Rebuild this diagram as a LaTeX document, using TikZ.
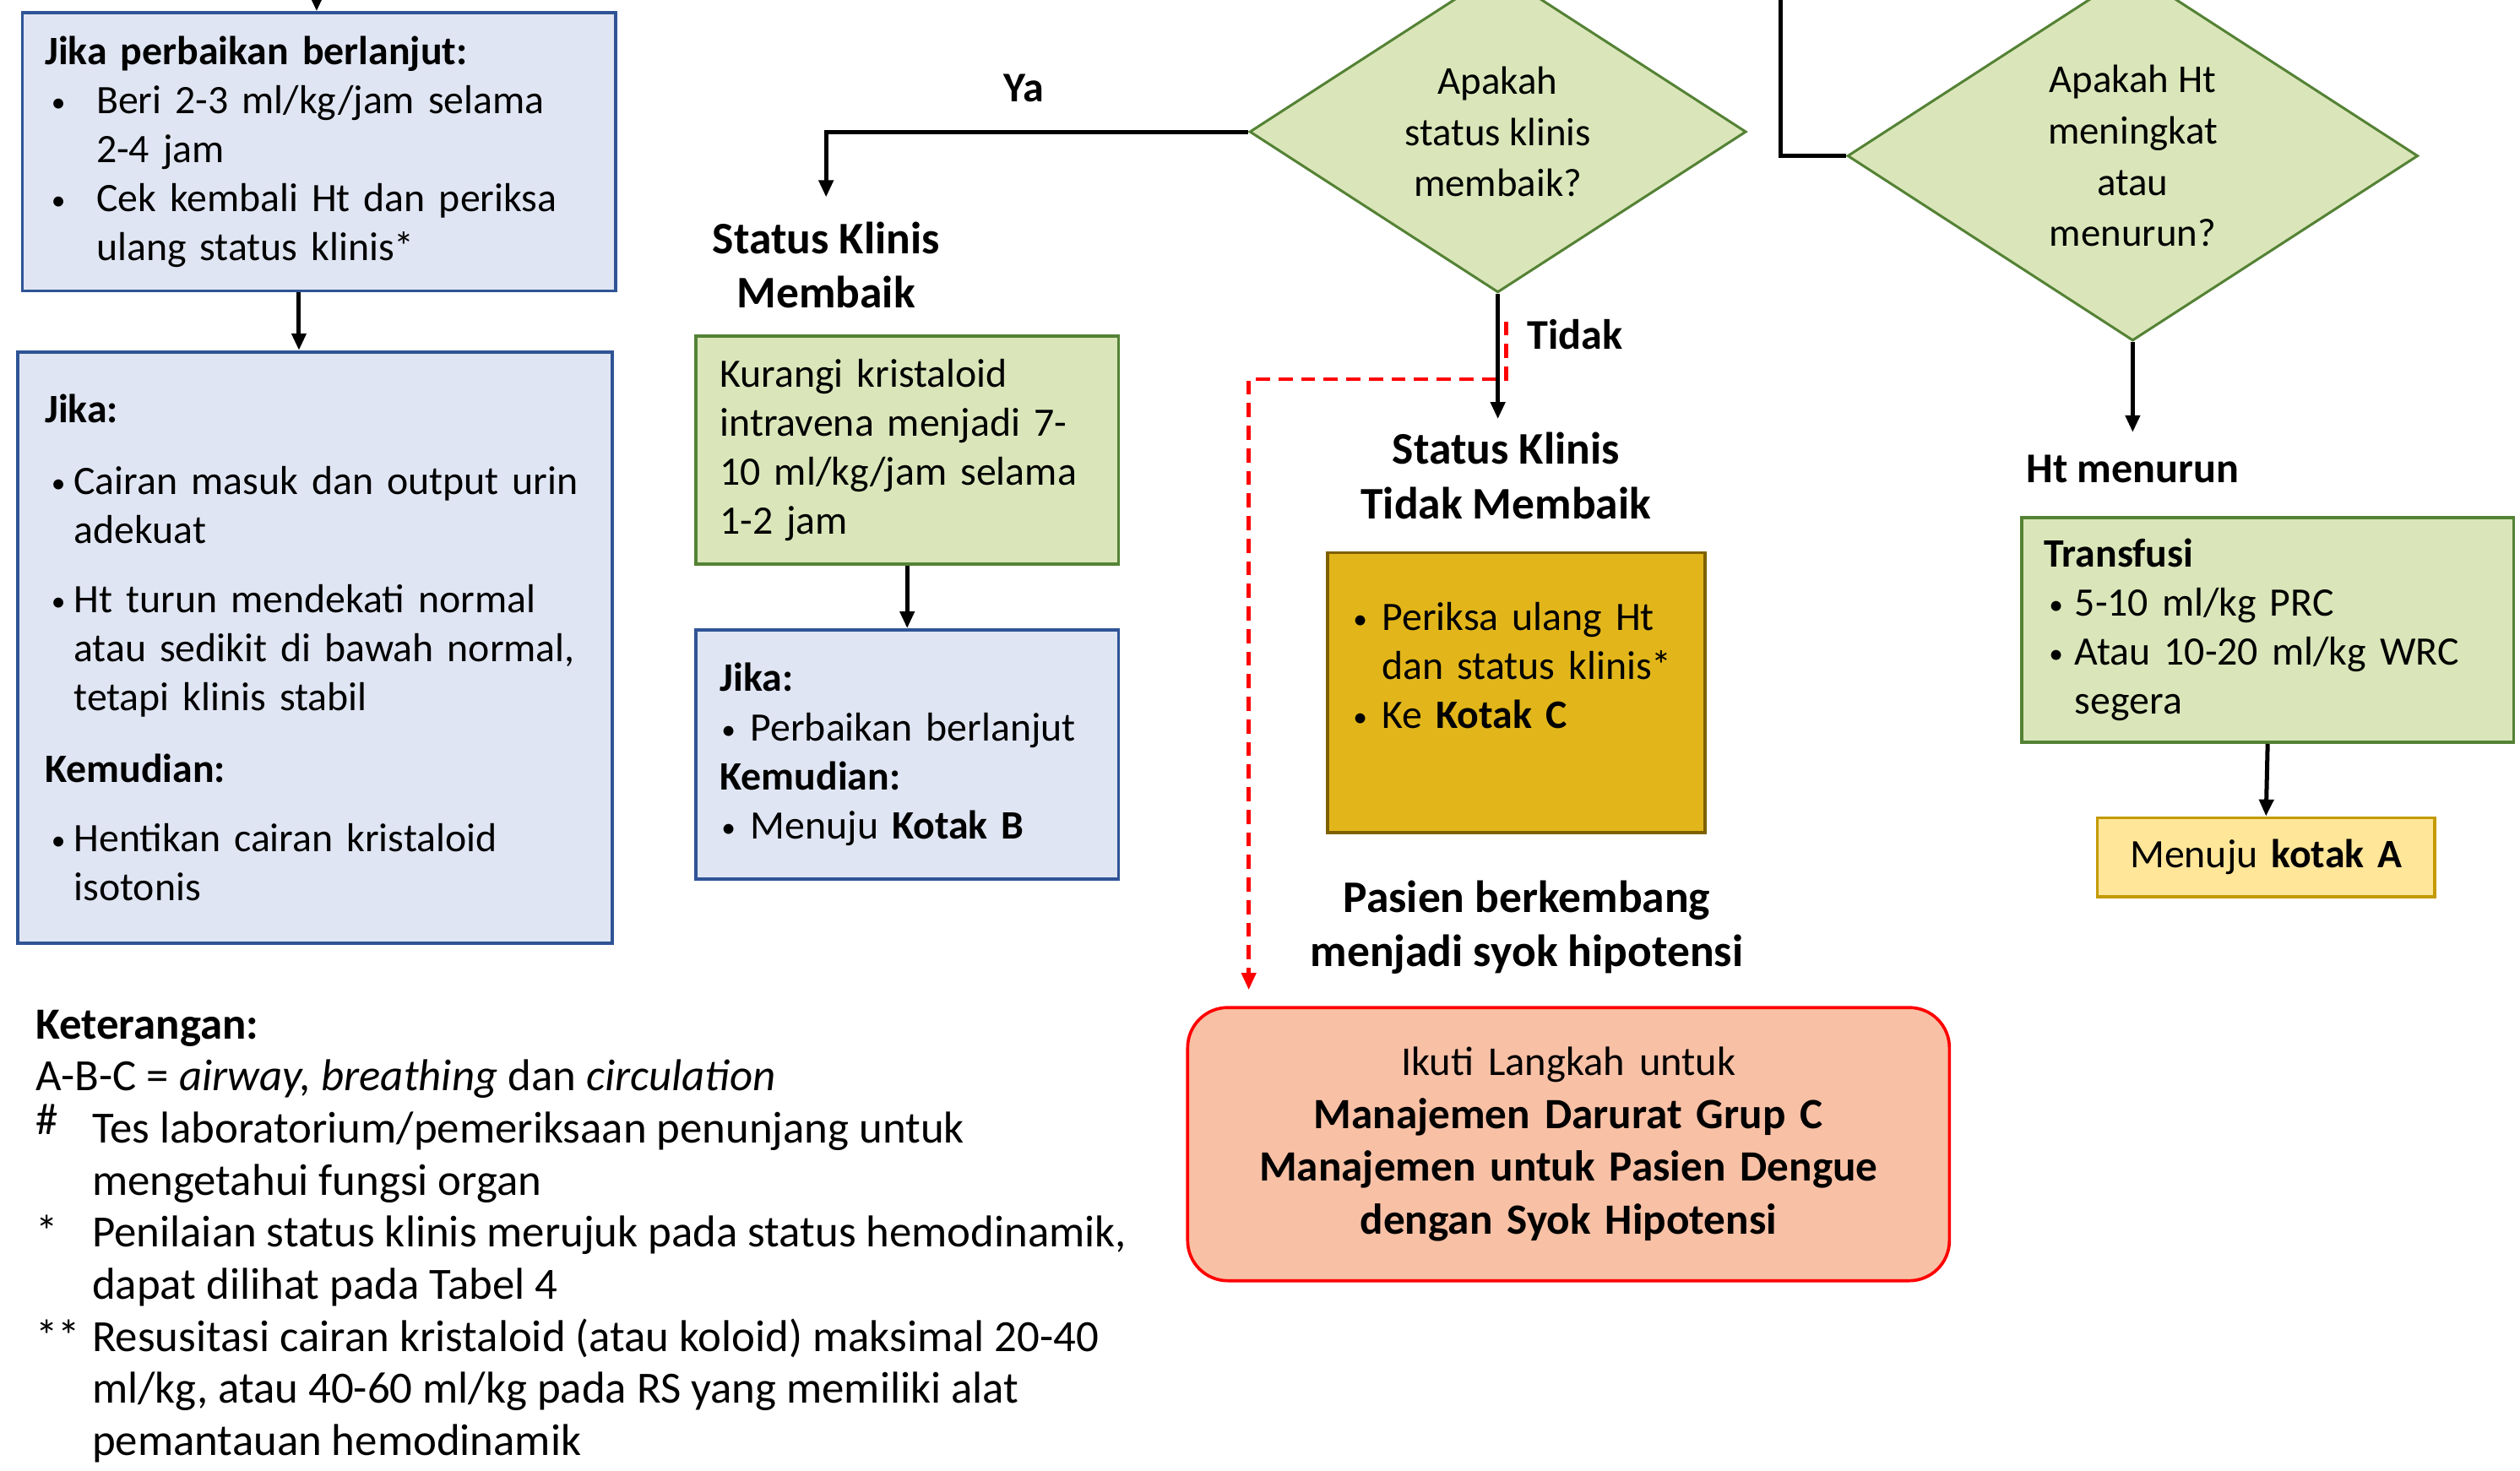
\documentclass[tikz,border=0pt]{standalone}
\usepackage{fontspec}
\setmainfont{Carlito}
\usetikzlibrary{arrows.meta,shapes.geometric}
\newlength\uu \setlength\uu{0.02cm}
\definecolor{fillblue}{HTML}{DFE5F2}
\definecolor{lineblue}{HTML}{2F5496}
\definecolor{fillgreen}{HTML}{DAE6B9}
\definecolor{linegreen}{HTML}{548235}
\definecolor{fillgold}{HTML}{E2B61A}
\definecolor{linegold}{HTML}{7F6000}
\definecolor{fillyellow}{HTML}{FFE699}
\definecolor{lineyellow}{HTML}{C49A00}
\definecolor{fillsalmon}{HTML}{F8C0A5}
\definecolor{linered}{HTML}{FF0000}
\newcommand\smbul{\raisebox{0.6pt}{\fontsize{10}{10}\selectfont\textbullet}}
\newcommand\blt[2]{\makebox[#2\uu][l]{\hspace*{#1\uu}\smbul}}
\newcommand\indt[1]{\hspace*{#1\uu}}
\newcommand\mkr[1]{\makebox[35\uu][l]{#1}}
\newcommand\bodyfont{\fontsize{14.3}{17.4}\selectfont}
\newcommand\headfont{\fontsize{16}{19.3}\selectfont\bfseries}
\newcommand\smheadfont{\fontsize{15}{19.3}\selectfont\bfseries}
\newcommand\legfont{\fontsize{15.8}{18.45}\selectfont}
\newcommand\diafont{\fontsize{14}{18.2}\selectfont}
\newcommand\redfont{\fontsize{15.3}{18.7}\selectfont}
\begin{document}
\begin{tikzpicture}[x=0.02cm, y=-0.02cm,
  boxbase/.style={anchor=north west, draw, line width=1.1pt, inner ysep=0pt, align=left, font=\bodyfont, text=black},
  bluebox/.style={boxbase, draw=lineblue, fill=fillblue},
  greenbox/.style={boxbase, draw=linegreen, fill=fillgreen},
  dia/.style={diamond, draw=linegreen, fill=fillgreen, line width=0.9pt, inner sep=0pt, align=center, font=\diafont},
  lbl/.style={font=\headfont, align=center, inner sep=0pt},
  arr/.style={line width=1.5pt, -{Triangle[length=6pt,width=5pt]}},
  conn/.style={line width=1.6pt},
  reddash/.style={draw=linered, line width=1.4pt, dash pattern=on 5pt off 3pt, -{Triangle[length=6pt,width=5pt]}}]
\useasboundingbox (0,0) rectangle (1568,915);
\fill[white] (0,0) rectangle (1568,915);

% left column
\node[bluebox, minimum width=369\uu, minimum height=173\uu, inner xsep=14\uu, text width=341\uu] (b1) at (13,7)
 {\textbf{Jika perbaikan berlanjut:}\\
  \blt{4}{32}Beri 2-3 ml/kg/jam selama\\
  \indt{32}2-4 jam\\
  \blt{4}{32}Cek kembali Ht dan periksa\\
  \indt{32}ulang status klinis*};
\node[bluebox, minimum width=370\uu, minimum height=368\uu, inner xsep=17\uu, text width=336\uu] (b2) at (10,218)
 {\textbf{Jika:}\\[8pt]
  \blt{4}{18}Cairan masuk dan output urin\\
  \indt{18}adekuat\\[7pt]
  \blt{4}{18}Ht turun mendekati normal\\
  \indt{18}atau sedikit di bawah normal,\\
  \indt{18}tetapi klinis stabil\\[8pt]
  \textbf{Kemudian:}\\[7pt]
  \blt{4}{18}Hentikan cairan kristaloid\\
  \indt{18}isotonis};
\coordinate (t1) at (197,-2);
\coordinate (x186) at (186,0);
\draw[arr] (t1) -- (t1 |- b1.north);
\draw[arr] (b1.south -| x186) -- (b2.north -| x186);

% legend
\node[anchor=north west, inner sep=0pt, align=left, font=\legfont] (leg) at (22,628)
 {\textbf{Keterangan:}\\
  A-B-C = \textit{airway, breathing} dan \textit{circulation}\\
  \mkr{\raisebox{3pt}{\#}}Tes laboratorium/pemeriksaan penunjang untuk\\
  \mkr{}mengetahui fungsi organ\\
  \mkr{*}Penilaian status klinis merujuk pada status hemodinamik,\\
  \mkr{}dapat dilihat pada Tabel 4\\
  \mkr{**}Resusitasi cairan kristaloid (atau koloid) maksimal 20-40\\
  \mkr{}ml/kg, atau 40-60 ml/kg pada RS yang memiliki alat\\
  \mkr{}pemantauan hemodinamik};

% middle column
\node[dia, minimum width=309\uu, minimum height=200\uu] (d1) at (932,82) {Apakah\\status klinis\\membaik?};
\node[font=\smheadfont, inner sep=0pt] (ya) at (637,55) {Ya};
\node[lbl] (skm) at (514,165) {Status Klinis\\Membaik};
\draw[conn, arr, shorten >=15\uu] (d1.west) -| (skm.north);

\node[greenbox, minimum width=263\uu, minimum height=142\uu, inner xsep=15\uu, text width=233\uu] (b3) at (432,208)
 {Kurangi kristaloid\\intravena menjadi 7-\\10 ml/kg/jam selama\\1-2 jam};
\node[bluebox, minimum width=263\uu, minimum height=155\uu, inner xsep=15\uu, text width=233\uu] (b4) at (432,391)
 {\textbf{Jika:}\\
  \blt{1}{19}Perbaikan berlanjut\\
  \textbf{Kemudian:}\\
  \blt{1}{19}Menuju \textbf{Kotak B}};
\draw[arr] (b3.south) -- (b4.north);

\node[font=\smheadfont, inner sep=0pt] (tidak) at (980,208) {Tidak};
\node[lbl] (sktm) at (937,296) {Status Klinis\\Tidak Membaik};
\draw[arr, shorten >=8\uu] (d1.south) -- (d1.south |- sktm.north);

\node[boxbase, draw=linegold, fill=fillgold, minimum width=235\uu, minimum height=174\uu, inner xsep=16\uu, text width=203\uu] (b5) at (825,343)
 {\blt{0}{18}Periksa ulang Ht\\
  \indt{18}dan status klinis*\\
  \blt{0}{18}Ke \textbf{Kotak C}\\[2pt]\mbox{}};

\node[lbl] (pasien) at (950,577) {Pasien berkembang\\menjadi syok hipotensi};

\node[boxbase, draw=linered, fill=fillsalmon, rounded corners=25\uu, minimum width=474\uu, minimum height=170\uu, inner xsep=17\uu, text width=440\uu, align=center, font=\redfont] (rb) at (738,626)
 {{\fontsize{14.5}{18.7}\selectfont Ikuti Langkah untuk}\\
  \textbf{Manajemen Darurat Grup C}\\
  \textbf{Manajemen untuk Pasien Dengue}\\
  \textbf{dengan Syok Hipotensi}};

\coordinate (rs) at (937,200);
\coordinate (rc) at (777,236);
\draw[reddash, shorten >=10\uu] (rs) |- (rc) -- (rc |- rb.north);

% right column
\node[dia, minimum width=355\uu, minimum height=230\uu] (d2) at (1327,97) {Apakah Ht\\meningkat\\atau\\menurun?};
\coordinate (t2) at (1108,-2);
\draw[conn] (t2) |- (d2.west);
\node[font=\smheadfont, inner sep=0pt] (htm) at (1327,292) {Ht menurun};
\draw[arr, shorten >=14\uu] (d2.south) -- (htm.north);

\node[greenbox, minimum width=306\uu, minimum height=140\uu, inner xsep=14\uu, text width=278\uu] (b6) at (1257,321)
 {\textbf{Transfusi}\\
  \blt{3}{19}5-10 ml/kg PRC\\
  \blt{3}{19}Atau 10-20 ml/kg WRC\\
  \indt{19}segera};
\node[boxbase, draw=lineyellow, fill=fillyellow, minimum width=210\uu, minimum height=49\uu, inner xsep=10\uu, text width=190\uu, align=center] (b7) at (1304,508)
 {Menuju \textbf{kotak A}};
\draw[arr] (b6.south) -- (b7.north);
\end{tikzpicture}
\end{document}
